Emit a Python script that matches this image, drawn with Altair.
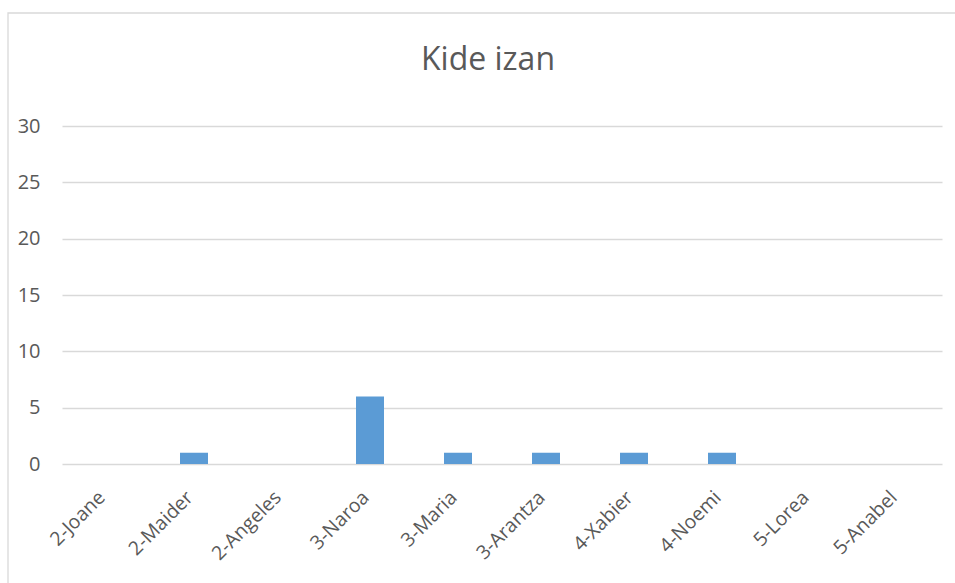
import altair as alt
import pandas as pd

names = ["2-Joane", "2-Maider", "2-Angeles", "3-Naroa", "3-Maria",
         "3-Arantza", "4-Xabier", "4-Noemi", "5-Lorea", "5-Anabel"]
values = [0, 1, 0, 6, 1, 1, 1, 1, 0, 0]
y_ticks = [0, 5, 10, 15, 20, 25, 30]
title_text = "Kide izan"

df = pd.DataFrame({"name": names, "value": values})
FONT = "Open Sans"
TXT = "#595959"

border = alt.Chart(pd.DataFrame({"a": [0]})).mark_rect(
    fill=None, stroke="#d9d9d9", strokeWidth=1.3
).encode(
    x=alt.value(-54), x2=alt.value(1200),
    y=alt.value(-113), y2=alt.value(800),
)

title = alt.Chart(pd.DataFrame({"t": [title_text]})).mark_text(
    font=FONT, fontSize=32, color=TXT, align="center", baseline="alphabetic"
).encode(text="t:N", x=alt.value(426), y=alt.value(-56))

bars = alt.Chart(df).mark_bar(size=28, color="#5b9bd5").encode(
    x=alt.X("name:N", sort=names, title=None,
            scale=alt.Scale(paddingInner=0, paddingOuter=0),
            axis=alt.Axis(labelAngle=-45, labelFont=FONT, labelFontSize=19.5,
                          labelColor=TXT, labelPadding=30, labelOffset=-4,
                          ticks=False, domain=False, grid=False,
                          labelAlign="right", labelBaseline="middle")),
    y=alt.Y("value:Q", title=None,
            scale=alt.Scale(domain=[0, 30], nice=False),
            axis=alt.Axis(values=y_ticks, labelFont=FONT, labelFontSize=20,
                          labelColor=TXT, labelPadding=22, ticks=False,
                          domain=False, gridColor="#d9d9d9", gridWidth=1.3)),
)

chart = alt.layer(border, title, bars).properties(
    width=880, height=338,
    autosize=alt.AutoSizeParams(type="none"),
    padding={"left": 62, "top": 126, "right": 13, "bottom": 119},
).configure_view(stroke=None)

chart.save("out.html", embed_options={"renderer": "svg", "actions": False})
